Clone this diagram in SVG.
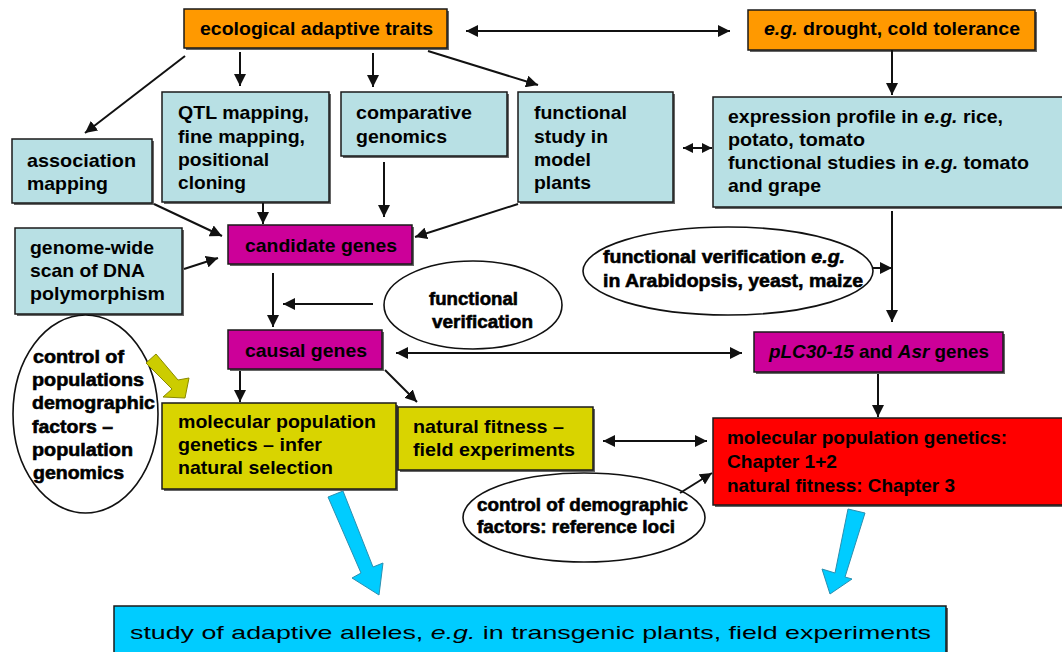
<svg xmlns="http://www.w3.org/2000/svg" width="1062" height="652" viewBox="0 0 1062 652">
<style>
text{font-family:"Liberation Sans",Arial,sans-serif;font-weight:bold;font-size:19px;fill:#000}
.it{font-style:italic}
.reg{font-weight:normal}
.hv{stroke:#000;stroke-width:0.6}
.box{stroke:#1a1a1a;stroke-width:1.5}
.sh{fill:#666}
.or{fill:#FF9900}
.lb{fill:#B8E0E4}
.mg{fill:#CC0099}
.yl{fill:#D9D400}
.rd{fill:#FF0000}
.cy{fill:#00CCFF}
.el{fill:#fff;stroke:#111;stroke-width:1.6}
.ln{stroke:#111;stroke-width:2;fill:none;marker-end:url(#ah)}
.dl{stroke:#111;stroke-width:2;fill:none;marker-end:url(#ah);marker-start:url(#ah)}
.ds{stroke:#111;stroke-width:2;fill:none;marker-end:url(#as);marker-start:url(#as)}
.blk{fill:#00CCFF;stroke:#2a8fb0;stroke-width:1}
.ylk{fill:#CCCC00;stroke:#8a8a00;stroke-width:1}
</style>
<defs>
<marker id="ah" markerUnits="userSpaceOnUse" markerWidth="12" markerHeight="12" refX="12" refY="6" orient="auto-start-reverse"><path d="M0,0 L12,6 L0,12 z" fill="#111"/></marker>
<marker id="as" markerUnits="userSpaceOnUse" markerWidth="10" markerHeight="10" refX="10" refY="5" orient="auto-start-reverse"><path d="M0,0 L10,5 L0,10 z" fill="#111"/></marker>
</defs>
<rect width="1062" height="652" fill="#fff"/>

<g id="n-ecological">
<rect class="sh" x="186" y="11" width="263" height="39"/>
<rect class="box or" x="184" y="9" width="263" height="39"/>
<text x="200" y="35" textLength="233" lengthAdjust="spacingAndGlyphs">ecological adaptive traits</text>
</g>
<g id="n-drought">
<rect class="sh" x="750" y="12" width="287" height="40"/>
<rect class="box or" x="748" y="10" width="287" height="40"/>
<text x="764" y="35" textLength="256" lengthAdjust="spacingAndGlyphs"><tspan class="it">e.g.</tspan> drought, cold tolerance</text>
</g>
<g id="n-association">
<rect class="sh" x="14" y="141" width="140" height="64"/>
<rect class="box lb" x="12" y="139" width="140" height="64"/>
<text x="27" y="167" textLength="109" lengthAdjust="spacingAndGlyphs">association</text>
<text x="27" y="190" textLength="81" lengthAdjust="spacingAndGlyphs">mapping</text>
</g>
<g id="n-qtl">
<rect class="sh" x="164" y="94" width="167" height="110"/>
<rect class="box lb" x="162" y="92" width="167" height="110"/>
<text x="178" y="119" textLength="131" lengthAdjust="spacingAndGlyphs">QTL mapping,</text>
<text x="178" y="143" textLength="127" lengthAdjust="spacingAndGlyphs">fine mapping,</text>
<text x="178" y="166" textLength="91" lengthAdjust="spacingAndGlyphs">positional</text>
<text x="178" y="189" textLength="68" lengthAdjust="spacingAndGlyphs">cloning</text>
</g>
<g id="n-comparative">
<rect class="sh" x="343" y="94" width="166" height="64"/>
<rect class="box lb" x="341" y="92" width="166" height="64"/>
<text x="356" y="119" textLength="116" lengthAdjust="spacingAndGlyphs">comparative</text>
<text x="356" y="143" textLength="91" lengthAdjust="spacingAndGlyphs">genomics</text>
</g>
<g id="n-functional-study">
<rect class="sh" x="520" y="94" width="155" height="110"/>
<rect class="box lb" x="518" y="92" width="155" height="110"/>
<text x="534" y="119" textLength="93" lengthAdjust="spacingAndGlyphs">functional</text>
<text x="534" y="143" textLength="74" lengthAdjust="spacingAndGlyphs">study in</text>
<text x="534" y="166" textLength="57" lengthAdjust="spacingAndGlyphs">model</text>
<text x="534" y="189" textLength="57" lengthAdjust="spacingAndGlyphs">plants</text>
</g>
<g id="n-expression">
<rect class="sh" x="715" y="99" width="360" height="110"/>
<rect class="box lb" x="713" y="97" width="360" height="110"/>
<text x="728" y="123" textLength="275" lengthAdjust="spacingAndGlyphs">expression profile in <tspan class="it">e.g.</tspan> rice,</text>
<text x="728" y="146" textLength="137" lengthAdjust="spacingAndGlyphs">potato, tomato</text>
<text x="728" y="169" textLength="301" lengthAdjust="spacingAndGlyphs">functional studies in <tspan class="it">e.g.</tspan> tomato</text>
<text x="728" y="192" textLength="93" lengthAdjust="spacingAndGlyphs">and grape</text>
</g>
<g id="n-candidate">
<rect class="sh" x="230" y="227" width="184" height="39"/>
<rect class="box mg" x="228" y="225" width="184" height="39"/>
<text x="245" y="252" textLength="152" lengthAdjust="spacingAndGlyphs">candidate genes</text>
</g>
<g id="n-genome">
<rect class="sh" x="17" y="230" width="167" height="86"/>
<rect class="box lb" x="15" y="228" width="167" height="86"/>
<text x="30" y="254" textLength="124" lengthAdjust="spacingAndGlyphs">genome-wide</text>
<text x="30" y="277" textLength="115" lengthAdjust="spacingAndGlyphs">scan of DNA</text>
<text x="30" y="300" textLength="135" lengthAdjust="spacingAndGlyphs">polymorphism</text>
</g>
<g id="n-funcver">
<ellipse class="el" cx="473" cy="305" rx="89" ry="44"/>
<text class="hv" x="429" y="305" textLength="89" lengthAdjust="spacingAndGlyphs">functional</text>
<text class="hv" x="432" y="328" textLength="101" lengthAdjust="spacingAndGlyphs">verification</text>
</g>
<g id="n-funcver-eg">
<ellipse class="el" cx="728" cy="271" rx="145" ry="44"/>
<text class="hv" x="603" y="263" textLength="242" lengthAdjust="spacingAndGlyphs">functional verification <tspan class="it">e.g.</tspan></text>
<text class="hv" x="603" y="287" textLength="260" lengthAdjust="spacingAndGlyphs">in Arabidopsis, yeast, maize</text>
</g>
<g id="n-causal">
<rect class="sh" x="230" y="332" width="154" height="39"/>
<rect class="box mg" x="228" y="330" width="154" height="39"/>
<text x="245" y="357" textLength="122" lengthAdjust="spacingAndGlyphs">causal genes</text>
</g>
<g id="n-plc">
<rect class="sh" x="756" y="334" width="249" height="40"/>
<rect class="box mg" x="754" y="332" width="249" height="40"/>
<text x="769" y="358" textLength="220" lengthAdjust="spacingAndGlyphs"><tspan class="it">pLC30-15</tspan> and <tspan class="it">Asr</tspan> genes</text>
</g>
<g id="n-control-pop">
<ellipse class="el" cx="85.5" cy="414" rx="72.5" ry="99"/>
<text class="hv" x="33" y="363" textLength="91" lengthAdjust="spacingAndGlyphs">control of</text>
<text class="hv" x="32" y="386" textLength="112" lengthAdjust="spacingAndGlyphs">populations</text>
<text class="hv" x="32" y="409" textLength="123" lengthAdjust="spacingAndGlyphs">demographic</text>
<text class="hv" x="32" y="433" textLength="81" lengthAdjust="spacingAndGlyphs">factors –</text>
<text class="hv" x="32" y="456" textLength="101" lengthAdjust="spacingAndGlyphs">population</text>
<text class="hv" x="33" y="479" textLength="91" lengthAdjust="spacingAndGlyphs">genomics</text>
</g>
<g id="n-molpop">
<rect class="sh" x="164" y="405" width="234" height="86"/>
<rect class="box yl" x="162" y="403" width="234" height="86"/>
<text x="178" y="428" textLength="198" lengthAdjust="spacingAndGlyphs">molecular population</text>
<text x="178" y="451" textLength="144" lengthAdjust="spacingAndGlyphs">genetics – infer</text>
<text x="178" y="474" textLength="155" lengthAdjust="spacingAndGlyphs">natural selection</text>
</g>
<g id="n-natfit">
<rect class="sh" x="400" y="409" width="195" height="63"/>
<rect class="box yl" x="398" y="407" width="195" height="63"/>
<text x="413" y="433" textLength="151" lengthAdjust="spacingAndGlyphs">natural fitness –</text>
<text x="413" y="456" textLength="162" lengthAdjust="spacingAndGlyphs">field experiments</text>
</g>
<g id="n-chapters">
<rect class="sh" x="715" y="420" width="360" height="87"/>
<rect class="box rd" x="713" y="418" width="360" height="87"/>
<text x="727" y="444" textLength="280" lengthAdjust="spacingAndGlyphs">molecular population genetics:</text>
<text x="727" y="468" textLength="110" lengthAdjust="spacingAndGlyphs">Chapter 1+2</text>
<text x="727" y="492" textLength="228" lengthAdjust="spacingAndGlyphs">natural fitness: Chapter 3</text>
</g>
<g id="n-control-demo">
<ellipse class="el" cx="584" cy="517.5" rx="121" ry="44.5"/>
<text class="hv" x="477" y="511" textLength="211" lengthAdjust="spacingAndGlyphs">control of demographic</text>
<text class="hv" x="477" y="533" textLength="198" lengthAdjust="spacingAndGlyphs">factors: reference loci</text>
</g>
<g id="n-study">
<rect class="sh" x="116" y="608" width="832" height="52"/>
<rect class="box cy" x="114" y="606" width="832" height="52"/>
<text class="reg" x="130" y="639" font-size="27" textLength="801" lengthAdjust="spacingAndGlyphs">study of adaptive alleles, <tspan class="it">e.g.</tspan> in transgenic plants, field experiments</text>
</g>

<g id="connectors">
<line class="dl" x1="466" y1="31" x2="730" y2="31"/>
<line class="ln" x1="185" y1="56" x2="85" y2="133"/>
<line class="ln" x1="240" y1="52" x2="240" y2="86"/>
<line class="ln" x1="373" y1="53" x2="373" y2="87"/>
<line class="ln" x1="428" y1="51" x2="538" y2="85"/>
<line class="ln" x1="892" y1="50" x2="892" y2="95"/>
<line class="ds" x1="683" y1="148" x2="712" y2="148"/>
<line class="ln" x1="154" y1="204" x2="222" y2="236"/>
<line class="ln" x1="263" y1="203" x2="263" y2="224"/>
<line class="ln" x1="384" y1="162" x2="384" y2="217"/>
<line class="ln" x1="518" y1="204" x2="415" y2="237"/>
<line class="ln" x1="184" y1="269" x2="218" y2="258"/>
<line class="ln" x1="273" y1="273" x2="273" y2="327"/>
<line class="ln" x1="373" y1="304" x2="283" y2="304"/>
<line class="ln" x1="892" y1="211" x2="892" y2="322"/>
<line class="ln" x1="873" y1="268" x2="892" y2="268"/>
<line class="dl" x1="396" y1="353" x2="742" y2="353"/>
<line class="ln" x1="240" y1="371" x2="240" y2="402"/>
<line class="ln" x1="385" y1="370" x2="417" y2="402"/>
<line class="ln" x1="878" y1="374" x2="878" y2="417"/>
<line class="dl" x1="603" y1="441" x2="707" y2="441"/>
<line class="ln" x1="680" y1="493" x2="712" y2="473"/>
<polygon class="ylk" points="146,363 156,354 178,380 189,378 185,398 163,397 172,389"/>
<polygon class="blk" points="328,497 343,491 373,567 383,563 379,595 352,578 361,573"/>
<polygon class="blk" points="848,509 865,513 845,577 852,579 830,594 822,569 835,573"/>
</g>
</svg>
